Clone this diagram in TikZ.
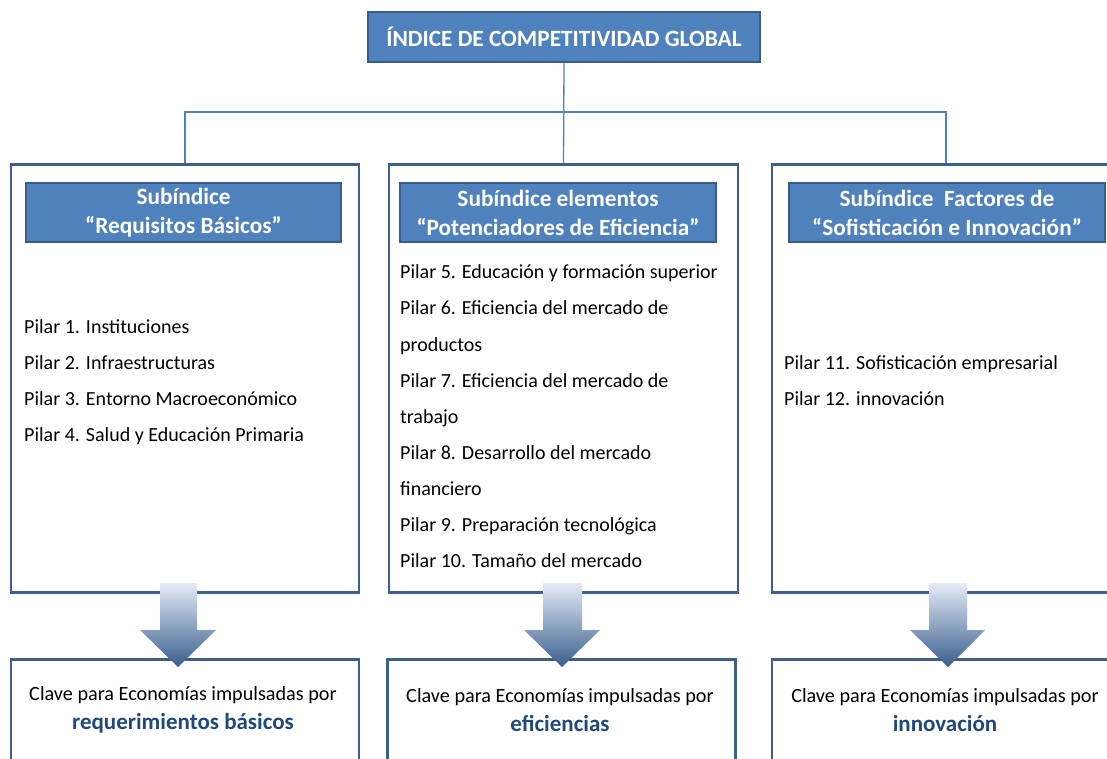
\documentclass[tikz,border=0pt]{standalone}
\usepackage{fontspec}
\setmainfont{Carlito}
\usetikzlibrary{positioning}
\definecolor{boxfill}{HTML}{4F81BD}
\definecolor{boxline}{HTML}{385D8A}
\definecolor{outline}{HTML}{3E5F8C}
\definecolor{keyblue}{HTML}{1F497D}
\definecolor{arrtop}{HTML}{E4EBF6}
\definecolor{arrmid}{HTML}{B9CAE6}
\definecolor{arrbot}{HTML}{3A5E8E}
\tikzset{
  bluebox/.style={draw=boxline, line width=2.5pt, fill=boxfill, text=white,
    font=\fontsize{23.3}{29}\selectfont\bfseries, align=center, inner sep=0pt},
  colbox/.style={draw=outline, line width=2.5pt, fill=white, inner sep=0pt},
  conn/.style={draw=boxfill, line width=1.3pt},
  pillar/.style={anchor=base west, inner sep=0pt, font=\fontsize{20}{22}\selectfont},
  keytext/.style={align=center, inner sep=0pt, font=\fontsize{20.2}{29}\selectfont},
  bigarrow/.style={top color=arrtop, middle color=arrmid, bottom color=arrbot, draw=none}
}
\begin{document}
\begin{tikzpicture}[x=1pt,y=-1pt]
\clip (0,0) rectangle (1107,758);
\fill[white] (0,0) rectangle (1107,758);
% title
\node[bluebox, minimum width=392pt, minimum height=50pt] (title) at (564,37) {ÍNDICE DE COMPETITIVIDAD GLOBAL};
% column boxes
\node[colbox, minimum width=348pt, minimum height=428pt] (colA) at (185,378.5) {};
\node[colbox, minimum width=349pt, minimum height=428pt] (colB) at (563.5,378.5) {};
\node[colbox, minimum width=348pt, minimum height=428pt] (colC) at (946,378.5) {};
% connectors
\coordinate (bus) at (0,112);
\draw[conn] (title.south) -- (colB.north);
\draw[conn] (colA.north) -- (colA.north |- bus) -- (colC.north |- bus) -- (colC.north);
% headers
\node[bluebox, minimum width=315pt, minimum height=59pt] (hA) at (183.5,212.5) {Subíndice\\“Requisitos Básicos”};
\node[bluebox, minimum width=316pt, minimum height=59pt] (hB) at (558,212.5) {Subíndice elementos\\“Potenciadores de Eficiencia”};
\node[bluebox, minimum width=316pt, minimum height=59pt] (hC) at (947,212.5) {Subíndice\ \ Factores de\\“Sofisticación e Innovación”};
% pillar texts column A
\node[pillar] (p1) at (24,333) {Pilar 1. Instituciones};
\node[pillar] (p2) at (24,369) {Pilar 2. Infraestructuras};
\node[pillar] (p3) at (24,405) {Pilar 3. Entorno Macroeconómico};
\node[pillar] (p4) at (24,441) {Pilar 4. Salud y Educación Primaria};
% column B
\node[pillar] (p5) at (400,278) {Pilar 5. Educación y formación superior};
\node[pillar] (p6) at (400,314) {Pilar 6. Eficiencia del mercado de};
\node[pillar] (p6b) at (400,351) {productos};
\node[pillar] (p7) at (400,387) {Pilar 7. Eficiencia del mercado de};
\node[pillar] (p7b) at (400,423) {trabajo};
\node[pillar] (p8) at (400,459) {Pilar 8. Desarrollo del mercado};
\node[pillar] (p8b) at (400,495) {financiero};
\node[pillar] (p9) at (400,531) {Pilar 9. Preparación tecnológica};
\node[pillar] (p10) at (400,567) {Pilar 10. Tamaño del mercado};
% column C
\node[pillar] (p11) at (784,369) {Pilar 11. Sofisticación empresarial};
\node[pillar] (p12) at (784,405) {Pilar 12. innovación};
% bottom boxes
\node[colbox, minimum width=348pt, minimum height=200pt, anchor=north] (kA) at (185,658) {};
\node[colbox, minimum width=348pt, minimum height=200pt, anchor=north] (kB) at (561.5,658) {};
\node[colbox, minimum width=348pt, minimum height=200pt, anchor=north] (kC) at (946,658) {};
\node[keytext] (tA) at (183,710) {Clave para Economías impulsadas por\\{\fontsize{23}{24}\selectfont\bfseries\color{keyblue}requerimientos básicos}};
\node[keytext] (tB) at (560,710) {Clave para Economías impulsadas por\\{\fontsize{23}{24}\selectfont\bfseries\color{keyblue}eficiencias}};
\node[keytext] (tC) at (945,710) {Clave para Economías impulsadas por\\{\fontsize{23}{24}\selectfont\bfseries\color{keyblue}innovación}};
% arrows
\shade[bigarrow] (160,583) -- (197,583) -- (197,630) -- (216,630) -- (178,667) -- (140,630) -- (160,630) -- cycle;
\shade[bigarrow] (543,583) -- (582,583) -- (582,630) -- (600,630) -- (562,667) -- (524,630) -- (543,630) -- cycle;
\shade[bigarrow] (929,583) -- (967,583) -- (967,630) -- (985,630) -- (948,667) -- (910,630) -- (929,630) -- cycle;
\end{tikzpicture}
\end{document}
